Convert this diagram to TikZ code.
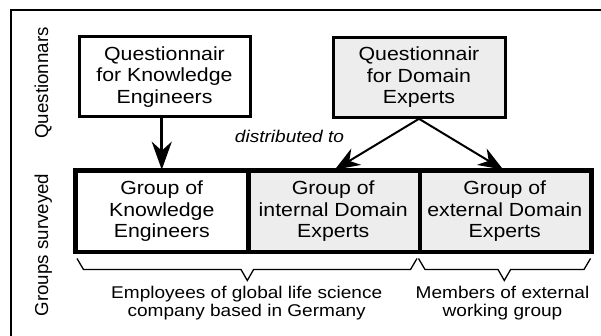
\documentclass[tikz,border=0pt]{standalone}
\usepackage{fontspec}
\setmainfont{Liberation Sans}[FakeStretch=1.12]
\newfontfamily\rotfont{Liberation Sans}
\usetikzlibrary{arrows.meta}
\definecolor{boxgray}{HTML}{EDEDED}
\tikzset{
  qbox/.style={draw=black, line width=3pt, minimum width=171pt, minimum height=80pt,
    inner sep=0pt, align=center, font=\fontsize{19}{21.5}\selectfont},
  gbox/.style={qbox, minimum width=171.5pt},
  shaded/.style={fill=boxgray},
  bigarrow/.style={line width=3pt, -{Stealth[length=28pt,width=20pt,inset=9pt]}},
  distarrow/.style={line width=2pt, -{Stealth[length=25pt,width=19pt,inset=8pt]}},
  bracestyle/.style={line width=1.3pt, line join=miter},
  sidelabel/.style={rotate=90, anchor=base, inner sep=0pt, font=\rotfont\fontsize{18.7}{20}\selectfont},
  bottomlabel/.style={align=center, inner sep=0pt, anchor=base, font=\fontsize{17}{18.5}\selectfont},
}
\begin{document}
\begin{tikzpicture}[x=1pt, y=-1pt]
\useasboundingbox (0,0) rectangle (601,336);
% outer frame (only top and left edges visible)
\draw[line width=2pt] (11,336) -- (11,10) -- (601,10);

% side labels
\node[sidelabel] (lq) at (48,83) {Questionnars};
\node[sidelabel] (lg) at (48,245) {Groups surveyed};

% questionnaires
\node[qbox] (q1) at (164.5,76.8) {Questionnair\\for Knowledge\\Engineers};
\node[qbox, shaded, minimum width=172pt] (q2) at (419,77.3) {Questionnair\\for Domain\\Experts};

% groups
\node[gbox] (g1) at (161.75,211.2) {Group of\\Knowledge\\Engineers};
\node[gbox, shaded] (g2) at (333.25,211.2) {Group of\\internal Domain\\Experts};
\node[gbox, shaded] (g3) at (504.75,211.2) {Group of\\external Domain\\Experts};
% redraw outer border of the group row on top
\draw[line width=3pt] (g1.north west) rectangle (g3.south east);
\draw[line width=3pt] (g1.north east) -- (g1.south east);
\draw[line width=3pt] (g2.north east) -- (g2.south east);

% arrows
\draw[bigarrow] (q1.south -| g1.north) -- (g1.north);
\draw[distarrow] (q2.south) -- ([xshift=1.5pt]g2.north);
\draw[distarrow] (q2.south) -- ([xshift=-1.5pt]g3.north);

\node[anchor=base, inner sep=0pt, font=\itshape\fontsize{17}{18}\selectfont] (dist) at (289.5,143) {distributed to};

% braces
\draw[bracestyle] (77,258.5) -- (83.5,269.5) -- (241,269.5) -- (247.3,280.5) -- (253.6,269.5) -- (410.5,269.5) -- (417,258.5);
\draw[bracestyle] (418.5,258.5) -- (425,269.5) -- (498,269.5) -- (504.3,280.5) -- (510.6,269.5) -- (584,269.5) -- (590.5,258.5);

% bottom labels (base anchor = baseline of last line)
\node[bottomlabel] (e1) at (246.7,316.5) {Employees of global life science\\company based in Germany};
\node[bottomlabel] (e2) at (502.5,316.5) {Members of external\\working group};
\end{tikzpicture}
\end{document}
